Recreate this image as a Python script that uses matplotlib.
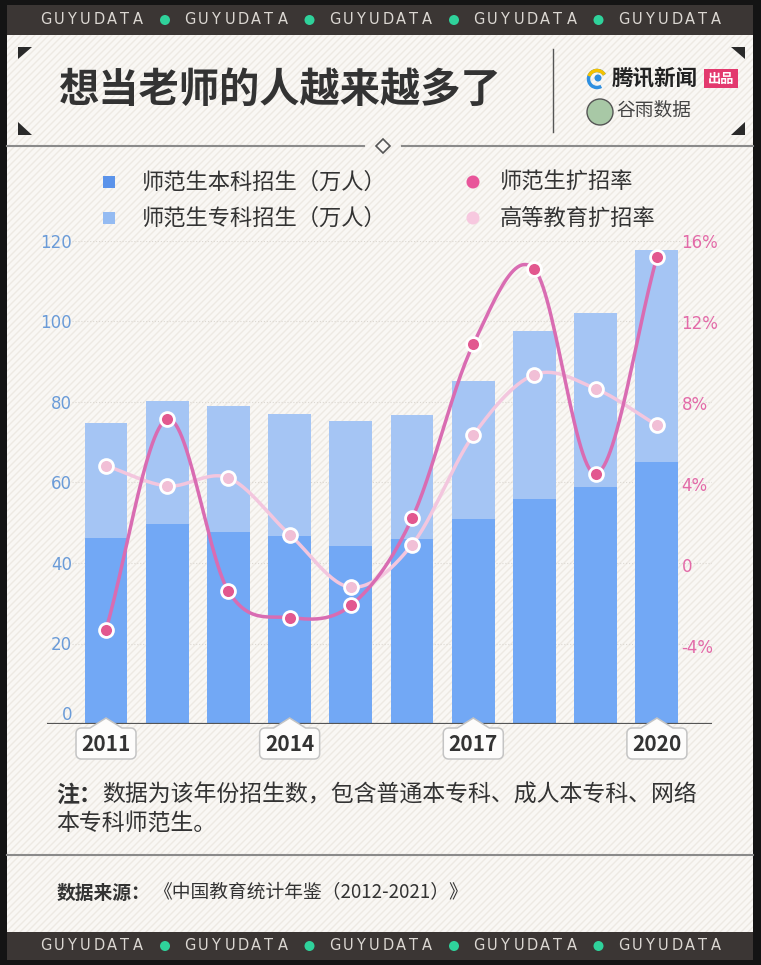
import numpy as np
import matplotlib.pyplot as plt
from matplotlib import transforms
from matplotlib.collections import LineCollection
from matplotlib.patches import Rectangle, Polygon, Circle, Arc

plt.rcParams['font.family'] = ['Noto Sans CJK SC', 'DejaVu Sans']

W, H = 761, 965

# data
years = [2011, 2012, 2013, 2014, 2015, 2016, 2017, 2018, 2019, 2020]
bachelor = [46.1, 49.8, 47.8, 46.6, 44.1, 46.0, 51.0, 55.8, 58.8, 65.0]      # 本科 (万人)
junior = [28.8, 30.4, 31.1, 30.3, 31.1, 30.7, 34.1, 41.8, 43.2, 52.7]        # 专科 (万人)
normal_rate = [-3.2, 7.2, -1.3, -2.6, -2.0, 2.3, 10.9, 14.6, 4.5, 15.2]      # 师范生扩招率 %
higher_rate = [4.9, 3.9, 4.3, 1.5, -1.1, 1.0, 6.4, 9.4, 8.7, 6.9]            # 高等教育扩招率 %
shown_years = [2011, 2014, 2017, 2020]
left_ticks = [0, 20, 40, 60, 80, 100, 120]
right_ticks = [-4, 0, 4, 8, 12, 16]
right_labels = ['-4%', '0', '4%', '8%', '12%', '16%']

C_BACH = '#72a8f5'
C_JUN = '#a5c5f4'
C_NORMAL_LINE = '#d96cb2'
C_NORMAL_DOT = '#e2588f'
C_HIGH = '#f3c6de'
C_HIGH_DOT = '#f1bfd6'
PANEL = '#f9f7f4'
BAND = '#3b3634'


def smooth(xs, ys, n=30):
    # cardinal (catmull-rom) spline through the points, for drawing only
    xs = np.asarray(xs, float)
    ys = np.asarray(ys, float)
    m = np.gradient(ys, xs)
    t = np.linspace(0, 1, n)
    h00 = 2 * t**3 - 3 * t**2 + 1
    h10 = t**3 - 2 * t**2 + t
    h01 = -2 * t**3 + 3 * t**2
    h11 = t**3 - t**2
    ox, oy = [], []
    for i in range(len(xs) - 1):
        h = xs[i + 1] - xs[i]
        ox.append(xs[i] + t * h)
        oy.append(h00 * ys[i] + h10 * h * m[i] + h01 * ys[i + 1] + h11 * h * m[i + 1])
    return np.concatenate(ox), np.concatenate(oy)


fig = plt.figure(figsize=(W / 100, H / 100), dpi=100, facecolor='#141414')

# background layer in pixel coordinates
bg = fig.add_axes([0, 0, 1, 1])
bg.set_xlim(0, W)
bg.set_ylim(H, 0)
bg.axis('off')

panel = Rectangle((7, 35), 746, 897, fc=PANEL, ec='none', zorder=0)
bg.add_patch(panel)
segs = [[(c, H), (c + H, 0)] for c in np.arange(-H, W + 10, 7)]
stripes = LineCollection(segs, colors='#ede9e3', linewidths=1.0, zorder=0.5)
bg.add_collection(stripes)
stripes.set_clip_path(panel)

# top / bottom bands
for y0, yc in [(5, 20), (932, 946)]:
    bg.add_patch(Rectangle((7, y0), 746, 30 if y0 == 5 else 28, fc=BAND, ec='none', zorder=2))
    for k in range(5):
        x0 = 40 + k * 144.5
        for j, ch in enumerate('GUYUDATA'):
            bg.text(x0 + j * 13.3, yc, ch, color='#dcd8d3', fontsize=10.5,
                    family='DejaVu Sans', ha='left', va='center', zorder=3)
        if k < 4:
            bg.add_patch(Circle((x0 + 125, yc), 5, fc='#2fd29b', ec='none', zorder=3))

# title area
for pts in [[(18, 47), (32, 47), (18, 59)], [(18, 122), (18, 135), (32, 135)],
            [(731, 47), (745, 47), (745, 59)], [(745, 122), (745, 135), (731, 135)]]:
    bg.add_patch(Polygon(pts, closed=True, fc='#2a2a2a', ec='none', zorder=3))
bg.text(58, 90, '想当老师的人越来越多了', fontsize=29, fontweight='bold',
        color='#333333', va='center', ha='left', zorder=3)
bg.plot([553, 553], [49, 132], color='#555555', lw=1, zorder=3)

bg.add_patch(Arc((597, 79), 17, 17, theta1=60, theta2=330, color='#2e8fe0', lw=2.5, zorder=3))
bg.add_patch(Arc((597, 79), 17, 17, theta1=200, theta2=330, color='#f5c200', lw=2.5, zorder=3))
bg.add_patch(Circle((598, 78), 3.5, fc='#2e8fe0', ec='none', zorder=3))
bg.text(612, 79, '腾讯新闻', fontsize=15.5, fontweight='bold', color='#222222',
        va='center', ha='left', zorder=3)
bg.add_patch(Rectangle((704, 69), 34, 19, fc='#e3396e', ec='none', zorder=3))
bg.text(721, 78.5, '出品', fontsize=9.5, fontweight='bold', color='white',
        va='center', ha='center', zorder=4)
bg.add_patch(Circle((600, 112), 13, fc='#a8c8a6', ec='#555555', lw=1, zorder=3))
bg.text(616, 110, '谷雨数据', fontsize=13.5, color='#444444', va='center', ha='left', zorder=3)

bg.plot([7, 364], [146, 146], color='#8a8a8a', lw=1.5, zorder=3)
bg.plot([402, 753], [146, 146], color='#8a8a8a', lw=1.5, zorder=3)
bg.add_patch(Polygon([(383, 139), (390, 146), (383, 153), (376, 146)], closed=True,
                     fc=PANEL, ec='#555555', lw=1.2, zorder=3))

# legend
bg.add_patch(Rectangle((103, 176), 12, 12, fc='#5b93ea', ec='none', zorder=3))
bg.add_patch(Rectangle((103, 212), 12, 12, fc='#94bbf2', ec='none', zorder=3))
bg.add_patch(Circle((473, 182), 6.5, fc='#e8559a', ec='none', zorder=3))
bg.add_patch(Circle((473, 218), 6.5, fc='#f7c8df', ec='none', zorder=3))
for x, y, s in [(142, 182, '师范生本科招生（万人）'), (142, 218, '师范生专科招生（万人）'),
                (500, 182, '师范生扩招率'), (500, 218, '高等教育扩招率')]:
    bg.text(x, y, s, fontsize=16, color='#333333', va='center', ha='left', zorder=3)

# note and source
em = 16.5 * 100 / 72
bg.text(56, 795, '注：', fontsize=16.5, fontweight='bold', color='#333333', va='center', zorder=3)
bg.text(56 + 2 * em, 795, '数据为该年份招生数，包含普通本专科、成人本专科、网络',
        fontsize=16.5, color='#333333', va='center', zorder=3)
bg.text(56, 823, '本专科师范生。', fontsize=16.5, color='#333333', va='center', zorder=3)
bg.plot([7, 753], [855, 855], color='#8a8a8a', lw=1.5, zorder=3)
bg.text(57, 893, '数据来源：', fontsize=13.5, fontweight='bold', color='#333333',
        va='center', zorder=3)
bg.text(153, 893, '《中国教育统计年鉴（2012-2021）》', fontsize=13.5, color='#333333',
        va='center', zorder=3)

# main chart
ax = fig.add_axes([47 / W, 1 - 724 / H, 665 / W, 483 / H])
ax.set_facecolor('none')
ax.bar(years, bachelor, width=0.7, color=C_BACH, zorder=2)
ax.bar(years, junior, width=0.7, bottom=bachelor, color=C_JUN, zorder=2)
ax.set_xlim(2010.036, 2020.9)
ax.set_ylim(0, 120)
ax.hlines(left_ticks[1:], 2010.44, 2020.9, colors='#dcd8d2', linestyles=':', lw=0.8, zorder=1)
ax.axhline(0, color='#555555', lw=1.6, zorder=3)
for s in ax.spines.values():
    s.set_visible(False)
ax.set_xticks([])
ax.set_yticks(left_ticks)
ax.set_yticklabels([str(v) for v in left_ticks], family='DejaVu Sans')
ax.tick_params(axis='y', length=0, pad=-18, labelcolor='#6a9bd8', labelsize=12)
ax.get_yticklabels()[0].set_va('bottom')

# year boxes
blend = transforms.blended_transform_factory(ax.transData, ax.transAxes)
r = 5
shape = [(-16, -4), (0, 6), (16, -4)]
for cx, cy, a0 in [(30 - r, -4 - r, 90), (30 - r, -35 + r, 0), (-30 + r, -35 + r, 270), (-30 + r, -4 - r, 180)]:
    ang = np.radians(np.linspace(a0, a0 - 90, 6))
    shape += list(zip(cx + r * np.cos(ang), cy + r * np.sin(ang)))
for yr in shown_years:
    tr = transforms.ScaledTranslation(yr, 0, blend)
    ax.add_patch(Polygon(shape, closed=True, transform=tr, fc='#fdfcfb', ec='#c4c4c4',
                         lw=1.1, clip_on=False, zorder=5))
    ax.annotate(str(yr), xy=(yr, 0), xytext=(0, -20.5 * 0.72), textcoords='offset points',
                ha='center', va='center', fontsize=15, fontweight='bold',
                color='#333333', zorder=6, annotation_clip=False)

ax2 = ax.twinx()
ax2.set_ylim(-7.86, 16)
for s in ax2.spines.values():
    s.set_visible(False)
hx, hy = smooth(years, higher_rate)
ax2.plot(hx, hy, color=C_HIGH, lw=2.5, zorder=3)
ax2.plot(years, higher_rate, 'o', ms=10, mfc=C_HIGH_DOT, mec='white', mew=2, zorder=4,
         clip_on=False)
nx, ny = smooth(years, normal_rate)
ax2.plot(nx, ny, color=C_NORMAL_LINE, lw=2.5, zorder=5)
ax2.plot(years, normal_rate, 'o', ms=10, mfc=C_NORMAL_DOT, mec='white', mew=2, zorder=6,
         clip_on=False)
ax2.set_yticks(right_ticks)
ax2.set_yticklabels(right_labels, family='DejaVu Sans')
ax2.tick_params(axis='y', length=0, pad=-22, labelcolor='#e36aa8', labelsize=12)
for lab in ax2.get_yticklabels():
    lab.set_ha('left')

fig.savefig('out.png', dpi=100, facecolor=fig.get_facecolor())
